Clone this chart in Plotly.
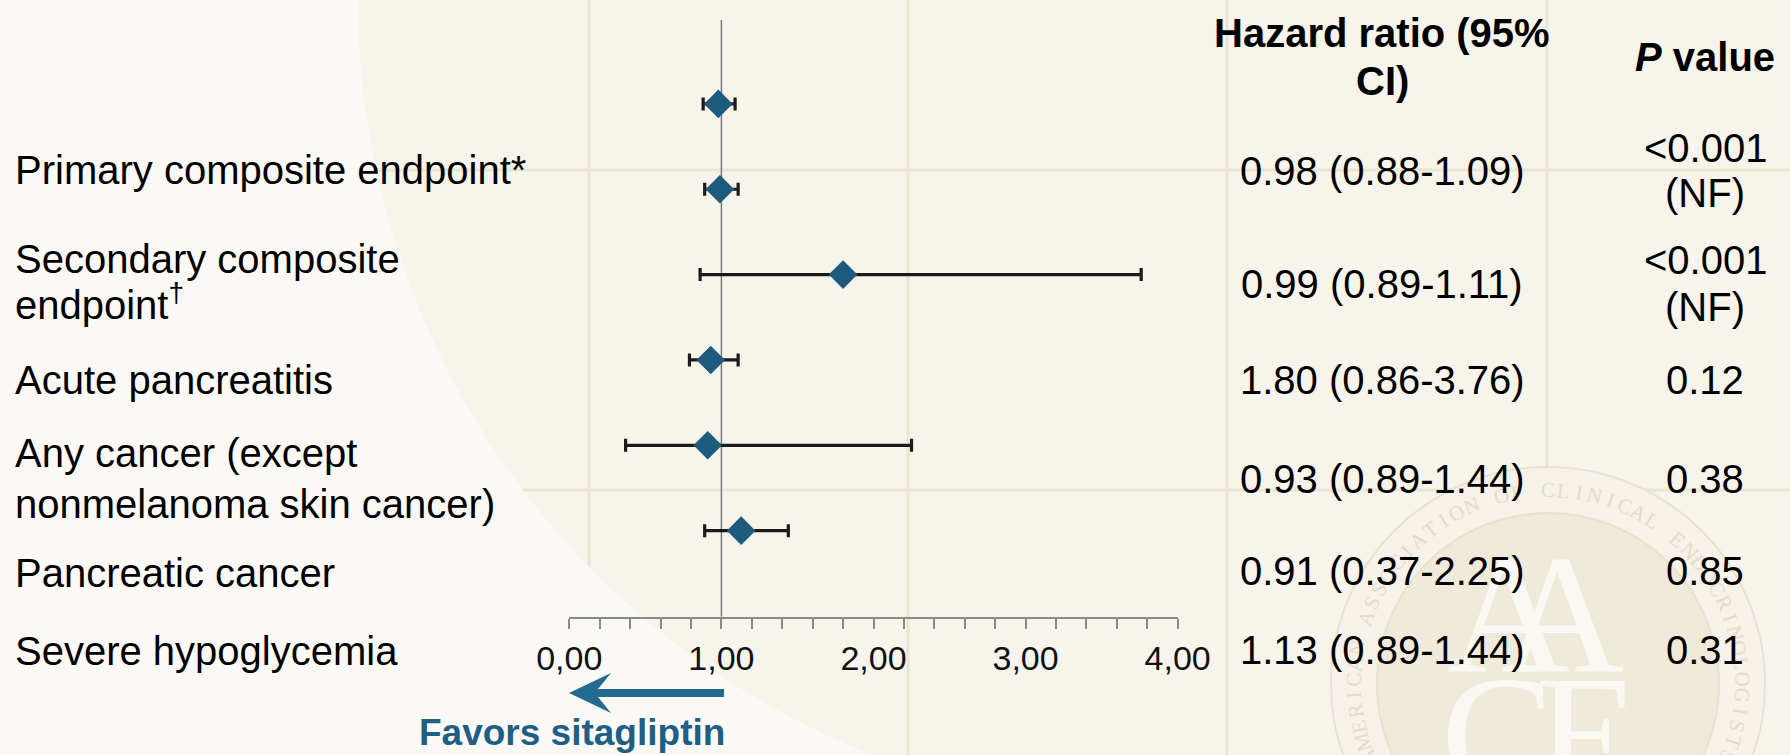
import math
import plotly.graph_objects as go

# ---- data -----------------------------------------------------------------
outcomes = [
    "Primary composite endpoint*",
    "Secondary composite<br>endpoint<sup>†</sup>",
    "Acute pancreatitis",
    "Any cancer (except<br>nonmelanoma skin cancer)",
    "Pancreatic cancer",
    "Severe hypoglycemia",
]
hr_ci_text = [
    "0.98 (0.88-1.09)",
    "0.99 (0.89-1.11)",
    "1.80 (0.86-3.76)",
    "0.93 (0.89-1.44)",
    "0.91 (0.37-2.25)",
    "1.13 (0.89-1.44)",
]
p_values = ["<0.001<br>(NF)", "<0.001<br>(NF)", "0.12", "0.38", "0.85", "0.31"]

# plotted estimates and interval limits, one per forest row (top to bottom)
hazard_ratio = [0.98, 0.99, 1.80, 0.93, 0.91, 1.13]
ci_lower = [0.88, 0.89, 0.86, 0.79, 0.37, 0.89]
ci_upper = [1.09, 1.11, 3.76, 1.11, 2.25, 1.44]
row_pos = [0, 1, 2, 3, 4, 5]

x_ticks = [0, 1, 2, 3, 4]

seal_text = "AMERICAN ASSOCIATION OF CLINICAL ENDOCRINOLOGISTS"

# ---- page geometry (pixels) ----------------------------------------------
W, H = 1790, 755


def X(px):
    return px / W


def Y(py):
    return 1 - py / H


FONT = "Liberation Sans, Arial, Helvetica, sans-serif"
SERIF = "Liberation Serif, Times New Roman, serif"
BLUE = "#1d5a7e"
ARROW = "#226a90"

# plot area: x 0..4 spans 569..1178 px, rows at 104 + 85.35*i px, axis at 617 px
x_left, x_right = 569.3, 1177.7
axis_px, top_px = 616.7, 20.0
row0_px, row_step = 103.9, 85.35
y_bottom = (axis_px - row0_px) / row_step
y_top = (top_px - row0_px) / row_step

fig = go.Figure()

fig.add_trace(
    go.Scatter(
        x=hazard_ratio,
        y=row_pos,
        mode="markers",
        marker=dict(symbol="diamond", size=22, color=BLUE, line=dict(width=0)),
        error_x=dict(
            type="data",
            symmetric=False,
            array=[u - h for u, h in zip(ci_upper, hazard_ratio)],
            arrayminus=[h - l for h, l in zip(hazard_ratio, ci_lower)],
            color="#1a1a1a",
            thickness=3.2,
            width=6.5,
        ),
        hoverinfo="skip",
        showlegend=False,
    )
)

shapes = []

# slide backdrop: faint grid
GRID = "#ece5d2"
for gx in [589, 908, 1227, 1547]:
    shapes.append(dict(type="line", xref="paper", yref="paper", x0=X(gx), x1=X(gx),
                       y0=0, y1=1, line=dict(color=GRID, width=3), layer="below"))
for gy in [170, 490]:
    shapes.append(dict(type="line", xref="paper", yref="paper", x0=0, x1=1,
                       y0=Y(gy), y1=Y(gy), line=dict(color=GRID, width=3), layer="below"))

# lighter sweep over the left side of the slide
cx, cy, R = 1169.0, 0.0, 811.0
a0 = math.atan2(0 - cy, 358 - cx)
a1 = math.atan2(755 - cy, 873 - cx)
pts = []
n = 40
for k in range(n + 1):
    a = a0 + (a1 - a0) * k / n
    pts.append((cx + R * math.cos(a), cy + R * math.sin(a)))
path = "M {:.5f},{:.5f} ".format(X(0), Y(0))
for (px_, py_) in pts:
    path += "L {:.5f},{:.5f} ".format(X(px_), Y(py_))
path += "L {:.5f},{:.5f} Z".format(X(0), Y(755))
shapes.append(dict(type="path", xref="paper", yref="paper", path=path,
                   fillcolor="#fbfaf7", line=dict(width=0), opacity=0.9, layer="below"))

# seal in the lower right corner
scx, scy, r_out, r_in = 1548, 684, 217, 171
shapes.append(dict(type="circle", xref="paper", yref="paper",
                   x0=X(scx - r_out), x1=X(scx + r_out), y0=Y(scy + r_out), y1=Y(scy - r_out),
                   fillcolor="#f6f2e9", line=dict(color="#e9e2cf", width=2), layer="below"))
shapes.append(dict(type="circle", xref="paper", yref="paper",
                   x0=X(scx - r_in), x1=X(scx + r_in), y0=Y(scy + r_in), y1=Y(scy - r_in),
                   fillcolor="#f0eadb", line=dict(color="#e9e2cf", width=2), layer="below"))

# reference line at HR = 1
shapes.append(dict(type="line", xref="x", yref="y", x0=1, x1=1, y0=y_top, y1=y_bottom,
                   line=dict(color="#7a7a7a", width=1.5), layer="below"))

# "favors" arrow pointing left from HR = 1
ay = 693
arrow_pts = [(569, ay), (611, ay - 20), (598, ay - 4), (724, ay - 4), (724, ay + 4),
             (598, ay + 4), (611, ay + 20)]
apath = "M " + " L ".join("{:.5f},{:.5f}".format(X(a), Y(b)) for a, b in arrow_pts) + " Z"
shapes.append(dict(type="path", xref="paper", yref="paper", path=apath,
                   fillcolor=ARROW, line=dict(width=0), layer="above"))

annotations = []

# seal lettering (drawn first so table text sits on top)
n_ch = len(seal_text)
r_txt = 194
for i, ch in enumerate(seal_text):
    if ch == " ":
        continue
    th = -112 + 224 * i / (n_ch - 1)
    t = math.radians(th)
    annotations.append(dict(
        x=X(scx + r_txt * math.sin(t)), y=Y(scy - r_txt * math.cos(t)),
        xref="paper", yref="paper", text=ch, showarrow=False, textangle=th,
        xanchor="center", yanchor="middle",
        font=dict(family=SERIF, size=21, color="#e4dcc8")))
for ch, lx, ly in [("A", 1508, 615), ("A", 1562, 615), ("C", 1497, 735), ("E", 1588, 735)]:
    annotations.append(dict(x=X(lx), y=Y(ly), xref="paper", yref="paper", text=ch,
                            showarrow=False, xanchor="center", yanchor="middle",
                            font=dict(family=SERIF, size=170, color="#faf8f2")))

# outcome labels (one annotation per line)
label_line_y = [[169.5], [259.5, 302.5], [380], [453, 504], [573], [651]]
for text, ys in zip(outcomes, label_line_y):
    for line, ly in zip(text.split("<br>"), ys):
        annotations.append(dict(x=X(13), y=Y(ly), xref="paper", yref="paper", text=line,
                                showarrow=False, xanchor="left", yanchor="middle",
                                font=dict(family=FONT, size=40, color="#000000")))

# table headers
HR_COL, P_COL = 1382, 1705
for line, ly in [("<b>Hazard ratio (95%</b>", 33), ("<b>CI)</b>", 81)]:
    annotations.append(dict(x=X(HR_COL), y=Y(ly), xref="paper", yref="paper", text=line,
                            showarrow=False, xanchor="center", yanchor="middle",
                            font=dict(family=FONT, size=40, color="#000000")))
annotations.append(dict(x=X(P_COL), y=Y(57), xref="paper", yref="paper",
                        text="<b><i>P</i> value</b>", showarrow=False,
                        xanchor="center", yanchor="middle",
                        font=dict(family=FONT, size=40, color="#000000")))

# table body
hr_y = [171, 284, 380, 479, 571, 650]
for text, ly in zip(hr_ci_text, hr_y):
    annotations.append(dict(x=X(HR_COL), y=Y(ly), xref="paper", yref="paper", text=text,
                            showarrow=False, xanchor="center", yanchor="middle",
                            font=dict(family=FONT, size=40, color="#000000")))
p_line_y = [[147.5, 193], [260, 307], [380], [479], [571], [650]]
for text, ys in zip(p_values, p_line_y):
    for line, ly in zip(text.split("<br>"), ys):
        annotations.append(dict(x=X(P_COL), y=Y(ly), xref="paper", yref="paper", text=line,
                                showarrow=False, xanchor="center", yanchor="middle",
                                font=dict(family=FONT, size=40, color="#000000")))

# arrow caption
annotations.append(dict(x=X(572), y=Y(732), xref="paper", yref="paper",
                        text="<b>Favors sitagliptin</b>", showarrow=False,
                        xanchor="center", yanchor="middle",
                        font=dict(family=FONT, size=37, color="#1f5f86")))

AXIS = "#8a8a8a"
fig.update_layout(
    width=W,
    height=H,
    autosize=False,
    margin=dict(l=0, r=0, t=0, b=0, pad=0, autoexpand=False),
    paper_bgcolor="#f7f4eb",
    plot_bgcolor="rgba(0,0,0,0)",
    separators=", ",
    showlegend=False,
    shapes=shapes,
    annotations=annotations,
    xaxis=dict(
        domain=[X(x_left), X(x_right)],
        range=[0, 4],
        tickvals=x_ticks,
        tickformat=".2f",
        showline=True,
        linecolor=AXIS,
        linewidth=2,
        ticks="outside",
        ticklen=10,
        tickwidth=2,
        tickcolor=AXIS,
        tickfont=dict(family=FONT, size=34, color="#111111"),
        minor=dict(ticks="outside", dtick=0.2, tick0=0, ticklen=10, tickwidth=2,
                   tickcolor=AXIS, showgrid=False),
        showgrid=False,
        zeroline=False,
        automargin=False,
        fixedrange=True,
    ),
    yaxis=dict(
        domain=[Y(axis_px), Y(top_px)],
        range=[y_bottom, y_top],
        visible=False,
        automargin=False,
        fixedrange=True,
    ),
)

fig.write_html("out.html")
